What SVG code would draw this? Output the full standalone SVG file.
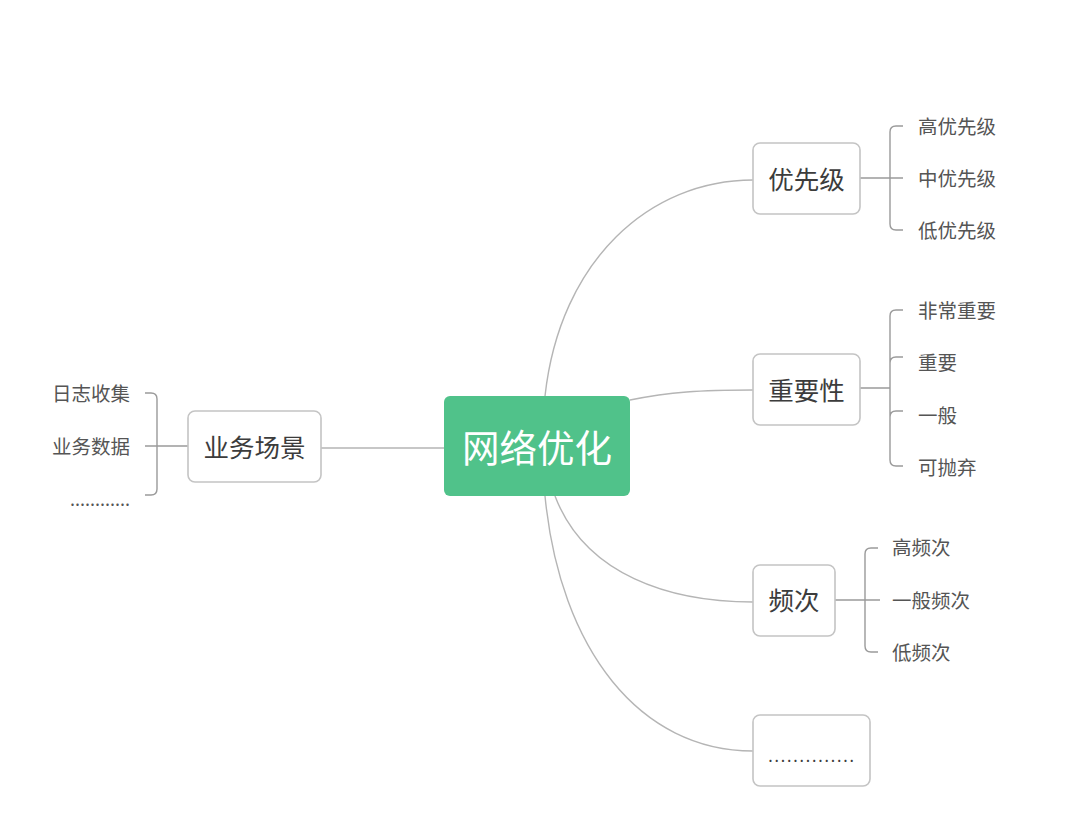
<svg xmlns="http://www.w3.org/2000/svg" width="1080" height="821" viewBox="0 0 1080 821">
<style>
.box{fill:#fff;stroke:#c4c4c4;stroke-width:1.6}
.ln{fill:none;stroke:#b5b5b5;stroke-width:1.4}
.br{fill:none;stroke:#9a9a9a;stroke-width:1.4}
.t{font-family:"Noto Sans CJK SC","Noto Sans",sans-serif;fill:#3c3c3c}
.m{font-size:25.5px}
.c{font-size:19.5px;fill:#555}
</style>
<rect width="1080" height="821" fill="#fff"/>
<g id="connectors">
<path class="ln" d="M321,448 L444,448"/>
<path class="ln" d="M545,396 C560,260 650,180 753,180"/>
<path class="ln" d="M630,400 C670,392 700,390 753,390"/>
<path class="ln" d="M555,496 C585,575 670,602 753,602"/>
<path class="ln" d="M545,496 C560,650 640,751 753,751"/>
<path class="br" d="M145,446 L188,446 M145,393 L151,393 Q157,393 157,399 L157,489 Q157,495 151,495 L145,495"/>
<path class="br" d="M860,178 L903,178 M903,126 L896,126 Q890,126 890,132 L890,224 Q890,230 896,230 L903,230"/>
<path class="br" d="M860,388 L890,388 M903,310 L896,310 Q890,310 890,316 L890,460 Q890,466 896,466 L903,466 M890,363 Q890,357 896,357 L903,357 M890,417 Q890,411 896,411 L903,411"/>
<path class="br" d="M835,600 L880,600 M878,548 L871,548 Q865,548 865,554 L865,646 Q865,652 871,652 L878,652"/>
</g>
<g id="root">
<rect x="444" y="396" width="186" height="100" rx="6" fill="#50c28a"/>
<text class="t" x="537" y="462" font-size="37.5" text-anchor="middle" style="fill:#fff">网络优化</text>
</g>
<g id="scene">
<rect class="box" x="188" y="411" width="133" height="71" rx="7"/>
<text class="t m" x="254.5" y="457" text-anchor="middle">业务场景</text>
<text class="t c" x="130" y="401" text-anchor="end">日志收集</text>
<text class="t c" x="130" y="454" text-anchor="end">业务数据</text>
<text class="t c" x="130" y="506" text-anchor="end" style="font-size:18px">............</text>
</g>
<g id="priority">
<rect class="box" x="753" y="143" width="107" height="71" rx="7"/>
<text class="t m" x="806.5" y="189" text-anchor="middle">优先级</text>
<text class="t c" x="918" y="134">高优先级</text>
<text class="t c" x="918" y="186">中优先级</text>
<text class="t c" x="918" y="238">低优先级</text>
</g>
<g id="importance">
<rect class="box" x="753" y="354" width="107" height="71" rx="7"/>
<text class="t m" x="806.5" y="400" text-anchor="middle">重要性</text>
<text class="t c" x="918" y="318">非常重要</text>
<text class="t c" x="918" y="370">重要</text>
<text class="t c" x="918" y="423">一般</text>
<text class="t c" x="918" y="475">可抛弃</text>
</g>
<g id="frequency">
<rect class="box" x="753" y="565" width="82" height="71" rx="7"/>
<text class="t m" x="794" y="610" text-anchor="middle">频次</text>
<text class="t c" x="892" y="555">高频次</text>
<text class="t c" x="892" y="608">一般频次</text>
<text class="t c" x="892" y="660">低频次</text>
</g>
<g id="more">
<rect class="box" x="753" y="715" width="117" height="71" rx="7"/>
<text class="t" x="812" y="762" text-anchor="middle" font-size="16" letter-spacing="1.8">..............</text>
</g>
</svg>
